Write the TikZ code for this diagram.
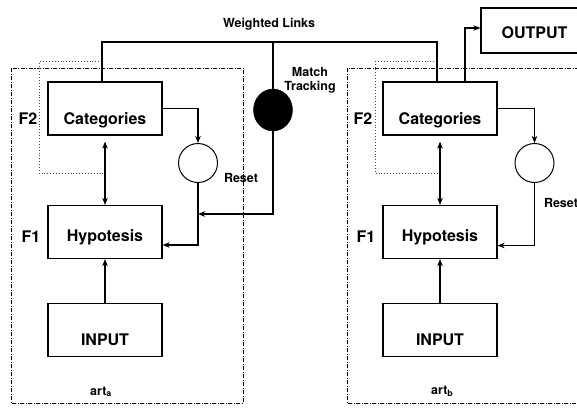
\documentclass[tikz,border=0pt]{standalone}
\usepackage{fontspec}
\setmainfont{TeX Gyre Heros}
\usetikzlibrary{shapes,arrows.meta}
\tikzstyle{block} = [rectangle, draw, line width=1.2pt, minimum width=114pt,
    minimum height=53pt, font=\fontsize{16}{16}\selectfont\bfseries, text depth=0pt]
\tikzstyle{reset} = [circle, draw, line width=1pt, minimum size=39pt, inner sep=0pt]
\tikzstyle{match} = [ellipse, draw, fill=black, minimum width=39pt, minimum height=42pt]
\tikzstyle{line} = [draw, -{Stealth[length=7pt, width=5.5pt, inset=2pt]}, line width=1.1pt]
\tikzstyle{both} = [draw, {Stealth[length=7pt, width=5.5pt, inset=2pt]}-{Stealth[length=7pt, width=5.5pt, inset=2pt]}, line width=1.1pt]
\tikzstyle{link} = [draw, line width=1.1pt]
\tikzstyle{bracket} = [draw, black!70, dotted, line width=0.9pt]
\tikzstyle{artbox} = [draw, line width=0.9pt, dash pattern=on 4pt off 1.5pt on 1pt off 1.5pt]
\tikzstyle{lbl} = [inner sep=0pt, text depth=0pt, font=\fontsize{16}{16}\selectfont\bfseries]
\tikzstyle{tag} = [inner sep=0pt, text depth=0pt, align=center,
    font=\fontsize{12.5}{14}\selectfont\bfseries]

\begin{document}
\begin{tikzpicture}[x=1pt, y=-1pt]
    \useasboundingbox (0,0) rectangle (577,407);

    % art_a
    \draw [artbox] (11,68) rectangle (243,403);
    \node [block, text height=32.5pt] (catA) at (105,108.5) {Categories};
    \node [block, below of=catA, node distance=123.5pt, text height=19.5pt] (hypA) {Hypotesis};
    \node [block, below of=hypA, node distance=98pt, text height=31.5pt] (inA) {INPUT};
    \node [reset] (resetA) at (198,163) {};

    % art_b
    \draw [artbox] (347,68) rectangle (600,403);
    \node [block, right of=catA, node distance=335pt, text height=32.5pt] (catB) {Categories};
    \node [block, below of=catB, node distance=123.5pt, text height=19.5pt] (hypB) {Hypotesis};
    \node [block, below of=hypB, node distance=98pt, text height=31.5pt] (inB) {INPUT};
    \node [reset] (resetB) at (534.5,163) {};
    \node [block, minimum width=107pt, minimum height=45pt, text height=16.5pt] (output) at (534.5,30.5) {OUTPUT};

    % map field
    \node [match] (mt) at (273,110) {};
    \coordinate (wl) at (273,42);
    \coordinate (mtA) at (resetA |- 0,214);

    % labels
    \node [tag] (links) at (269,23) {Weighted Links};
    \node [tag] (track) at (310,79) {Match\\Tracking};
    \node [tag] (rsA) at (241,178) {Reset};
    \node [tag] (rsB) at (561,202.5) {Reset};
    \node [lbl] (f2a) at (28,119) {F2};
    \node [lbl] (f1a) at (31,236.5) {F1};
    \node [lbl] (f2b) at (363,119) {F2};
    \node [lbl] (f1b) at (366,236.5) {F1};
    \node [tag, anchor=base west] (arta) at (90,395) {art\textsubscript{a}};
    \node [tag, anchor=base west] (artb) at (431,394) {art\textsubscript{b}};

    % F2 brackets
    \path [bracket] ([xshift=-3pt,yshift=20pt]catA.north) -| ([xshift=-8pt,yshift=-38pt]catA.south west) -- ([yshift=-38pt]catA.south);
    \path [bracket] ([xshift=-3pt,yshift=20pt]catB.north) -| ([xshift=-7pt,yshift=-38pt]catB.south west) -- ([yshift=-38pt]catB.south);

    \path [line] (catA) -| (resetA);
    \path [line] (resetA) |- ([yshift=-13pt]hypA.east);
    \path [both, shorten <=6pt] (catA) -- (hypA);
    \path [line] (inA) -- (hypA);

    \path [line] (catB) -| (resetB);
    \path [line] (resetB) |- ([yshift=-13.5pt]hypB.east);
    \path [both, shorten <=6pt] (catB) -- (hypB);
    \path [line] (inB) -- (hypB);
    \path [line] ([xshift=25pt]catB.north) |- ([yshift=2.5pt]output.west);

    \path [link] ([xshift=-3pt]catA.north) |- (wl) -| ([xshift=-3pt]catB.north);
    \path [link] (mt) -- (wl);
    \path [line] (mt) |- (mtA);

\end{tikzpicture}
\end{document}
